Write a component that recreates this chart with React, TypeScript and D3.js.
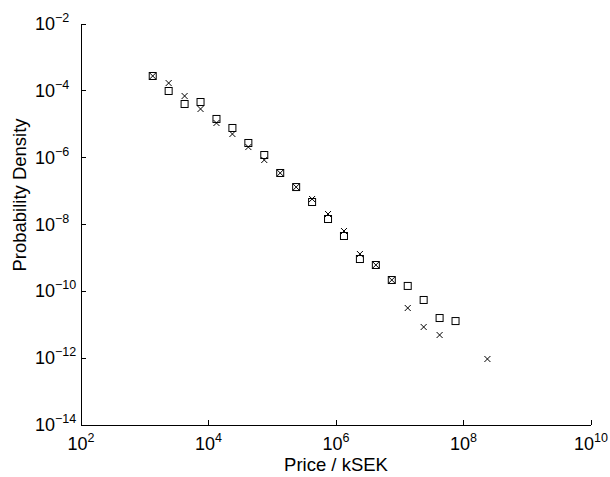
import React from 'react';
import * as d3 from 'd3';

// price bins (kSEK), quarter-decade spacing
const squareX = [1334, 2371, 4217, 7499, 13335, 23714, 42170, 74989, 133352, 237137, 421697, 749894, 1333521, 2371374, 4216965, 7498942, 13335214, 23713737, 42169650, 74989421];
const squareY = [2.78e-4, 9.89e-5, 4.04e-5, 4.63e-5, 1.44e-5, 7.73e-6, 2.75e-6, 1.2e-6, 3.48e-7, 1.32e-7, 4.71e-8, 1.46e-8, 4.53e-9, 9.27e-10, 6.14e-10, 2.18e-10, 1.45e-10, 5.51e-11, 1.59e-11, 1.29e-11];

const crossX = [1334, 2371, 4217, 7499, 13335, 23714, 42170, 74989, 133352, 237137, 421697, 749894, 1333521, 2371374, 4216965, 7498942, 13335214, 23713737, 42169650, 237137371];
const crossY = [2.78e-4, 1.71e-4, 7.0e-5, 2.86e-5, 1.09e-5, 5.1e-6, 2.08e-6, 8.51e-7, 3.48e-7, 1.32e-7, 5.79e-8, 2.06e-8, 6.38e-9, 1.31e-9, 6.14e-10, 2.18e-10, 3.17e-11, 8.57e-12, 4.93e-12, 9.44e-13];

const xTicks = [2, 4, 6, 8, 10];
const yTicks = [-14, -12, -10, -8, -6, -4, -2];

const width = 610;
const height = 477;
const margin = { top: 24, right: 19, bottom: 52, left: 81 };
const font = 'Liberation Sans, Arial, Helvetica, sans-serif';

export default function App() {
  const x = d3.scaleLog().domain([1e2, 1e10]).range([margin.left, width - margin.right]);
  const y = d3.scaleLog().domain([1e-14, 1e-2]).range([height - margin.bottom, margin.top]);
  const x0 = margin.left;
  const y0 = height - margin.bottom;
  const tick = 5;
  const sq = 3.5; // half side of square marker
  const cr = 3; // half size of cross marker

  return (
    <svg width={width} height={height} style={{ position: 'absolute', left: 0, top: 0, background: '#fff' }}>
      <rect width={width} height={height} fill="#fff" />
      {/* axes */}
      <g stroke="#000" strokeWidth={1} fill="none" shapeRendering="crispEdges">
        <line x1={x0} x2={x0} y1={margin.top} y2={y0} />
        <line x1={x0} x2={width - margin.right} y1={y0} y2={y0} />
        {xTicks.map(e => (
          <line key={'xt' + e} x1={x(10 ** e)} x2={x(10 ** e)} y1={y0} y2={y0 - tick} />
        ))}
        {yTicks.map(e => (
          <line key={'yt' + e} x1={x0} x2={x0 + tick} y1={y(10 ** e)} y2={y(10 ** e)} />
        ))}
      </g>
      {/* tick labels */}
      <g fontFamily={font} fill="#000">
        {xTicks.map(e => (
          <text key={'xl' + e} x={x(10 ** e)} y={y0 + 25} textAnchor="middle" fontSize={18}>
            10<tspan dy={-8} fontSize={12.5}>{e}</tspan>
          </text>
        ))}
        {yTicks.map(e => (
          <text key={'yl' + e} x={35} y={y(10 ** e) + 6} textAnchor="start" fontSize={18}>
            10<tspan dy={-8} fontSize={12.5}>{'\u2212' + Math.abs(e)}</tspan>
          </text>
        ))}
      </g>
      {/* axis titles */}
      <text x={(margin.left + width - margin.right) / 2} y={471} textAnchor="middle" fontFamily={font} fontSize={18.5}>
        Price / kSEK
      </text>
      <text transform={`translate(26,${195}) rotate(-90)`} textAnchor="middle" fontFamily={font} fontSize={18.5}>
        Probability Density
      </text>
      {/* markers */}
      <g stroke="#000" strokeWidth={1} fill="none">
        {squareX.map((v, i) => (
          <rect key={'s' + i} x={x(v) - sq} y={y(squareY[i]) - sq} width={sq * 2} height={sq * 2} />
        ))}
        {crossX.map((v, i) => {
          const cx = x(v);
          const cy = y(crossY[i]);
          return (
            <path key={'c' + i} d={`M${cx - cr},${cy - cr}L${cx + cr},${cy + cr}M${cx - cr},${cy + cr}L${cx + cr},${cy - cr}`} />
          );
        })}
      </g>
    </svg>
  );
}
